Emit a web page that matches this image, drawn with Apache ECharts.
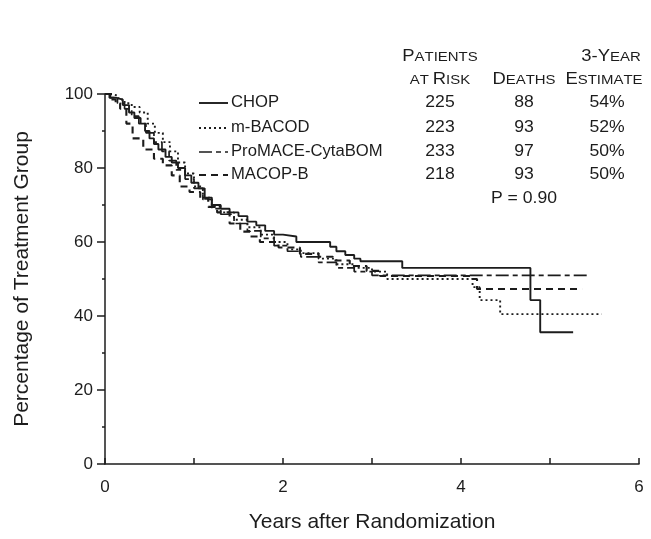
<!DOCTYPE html>
<html>
<head>
<meta charset="utf-8">
<script src="https://cdn.jsdelivr.net/npm/echarts@6/dist/echarts.min.js"></script>
<style>
  html, body { margin: 0; padding: 0; background: #fff; }
  #chart { width: 651px; height: 539px; }
</style>
</head>
<body>
<div id="chart"></div>
<script>
// Kaplan-Meier survival curves by treatment group (step functions)
const chopTimes   = [0, 0.05, 0.12, 0.2, 0.27, 0.33, 0.4, 0.45, 0.5, 0.55, 0.6, 0.68, 0.75, 0.82, 0.9, 0.97, 1.05, 1.12, 1.2, 1.3, 1.4, 1.5, 1.6, 1.7, 1.8, 1.9, 2.0, 2.15, 2.53, 2.6, 2.7, 2.8, 2.87, 3.34, 4.78, 4.89, 5.26];
const chopValues  = [100, 99, 98.5, 97, 95, 93.5, 92, 90, 88, 86.5, 85, 83, 81.5, 80, 78, 76, 74.5, 72, 70, 69, 68, 67, 65.5, 64.5, 63, 62, 61.5, 60, 58.7, 57.5, 56.5, 55.5, 54.8, 53, 44.3, 35.6, 35.6];

const mbacodTimes  = [0, 0.08, 0.15, 0.22, 0.3, 0.39, 0.48, 0.56, 0.65, 0.73, 0.82, 0.9, 1.0, 1.1, 1.2, 1.3, 1.45, 1.6, 1.75, 1.9, 2.05, 2.2, 2.4, 2.6, 2.8, 3.0, 3.17, 4.13, 4.21, 4.44, 5.58];
const mbacodValues = [100, 99.5, 98.5, 97.5, 96.5, 95, 92, 89.5, 87, 84.5, 81.5, 78.5, 75, 72, 69.5, 68, 66, 64, 62, 60, 58, 57, 55.5, 54, 53, 52, 50, 47.8, 44.3, 40.5, 40.5];

const promaceTimes  = [0, 0.06, 0.14, 0.22, 0.3, 0.38, 0.46, 0.55, 0.64, 0.72, 0.8, 0.9, 1.0, 1.1, 1.2, 1.3, 1.45, 1.6, 1.75, 1.9, 2.05, 2.2, 2.4, 2.6, 2.8, 3.0, 5.45];
const promaceValues = [100, 99, 97.5, 96, 94, 92, 89.5, 87, 84.5, 82, 79.5, 77, 74.5, 71.5, 69, 67.5, 65, 63, 61, 59, 57.5, 56, 54.5, 53, 52, 51, 51];

const macopTimes  = [0, 0.06, 0.12, 0.17, 0.24, 0.31, 0.43, 0.55, 0.65, 0.75, 0.84, 0.95, 1.07, 1.16, 1.26, 1.4, 1.52, 1.63, 1.74, 1.95, 2.19, 2.4, 2.56, 2.75, 2.94, 3.09, 4.13, 4.18, 5.36];
const macopValues = [100, 98.5, 97.5, 96, 92, 88, 85, 82.5, 80.7, 78, 75, 73.5, 71.7, 69.5, 68, 65, 62.8, 61.5, 60, 58.5, 56.8, 56, 55, 53.5, 52.2, 50.8, 50, 47.3, 47.3];

// Summary table
const groupNames   = ['CHOP', 'm-BACOD', 'ProMACE-CytaBOM', 'MACOP-B'];
const atRisk       = ['225', '223', '233', '218'];
const deaths       = ['88', '93', '97', '93'];
const estimates    = ['54%', '52%', '50%', '50%'];
const pValueText   = 'P = 0.90';

const xTicks = [0, 2, 4, 6];
const yTicks = [0, 20, 40, 60, 80, 100];

const INK = '#1c1c1c';
const FONT = '"Liberation Sans", Arial, Helvetica, sans-serif';
const dashes = ['solid', [2, 3], [13, 4, 5, 4], [7, 5]];
const widths = [1.9, 1.9, 1.7, 2.1];

function pairs(ts, vs) { return ts.map((t, i) => [t, vs[i]]); }
const seriesData = [
  pairs(chopTimes, chopValues),
  pairs(mbacodTimes, mbacodValues),
  pairs(promaceTimes, promaceValues),
  pairs(macopTimes, macopValues)
];

const chart = echarts.init(document.getElementById('chart'), null, { renderer: 'canvas' });

// Small-caps header text: capital letters full size, lowercase letters as small capitals
const capStyles = {
  big: { fontSize: 16, fontFamily: FONT, fill: INK },
  sm:  { fontSize: 13, fontFamily: FONT, fill: INK }
};
function smallCaps(str) {
  let out = '';
  for (const ch of str) {
    if (ch === ' ') out += ' ';
    else if (ch === ch.toLowerCase() && ch !== ch.toUpperCase()) out += '{sm|' + ch.toUpperCase() + '}';
    else out += '{big|' + ch + '}';
  }
  return out;
}

const colX = [440, 524, 607];
const rowY = [103, 128, 152, 175];
const graphics = [];
const TEXT_SCALE = 1.1;

function headerText(x, y, str) {
  graphics.push({
    type: 'text', x: x, y: y, scaleX: 1.15,
    style: {
      text: smallCaps(str), rich: capStyles, align: 'center', verticalAlign: 'middle',
      fontFamily: FONT, fill: INK
    }
  });
}
headerText(colX[0], 57, 'Patients');
headerText(colX[0], 80, 'at Risk');
headerText(colX[1], 80, 'Deaths');
headerText(colX[2] + 4, 57, '3-Year');
headerText(colX[2] - 3, 80, 'Estimate');

function cell(x, y, str, align, scale) {
  graphics.push({
    type: 'text', x: x, y: y, scaleX: scale || TEXT_SCALE,
    style: { text: str, fontSize: 16, fontFamily: FONT, fill: INK, align: align || 'center', verticalAlign: 'middle' }
  });
}

groupNames.forEach((name, i) => {
  const y = rowY[i];
  graphics.push({
    type: 'line',
    shape: { x1: 199, y1: y, x2: 228, y2: y },
    style: { stroke: INK, lineWidth: widths[i], lineDash: dashes[i] === 'solid' ? null : dashes[i] }
  });
  cell(231, y, name, 'left', 1.04);
  cell(colX[0], y, atRisk[i]);
  cell(colX[1], y, deaths[i]);
  cell(colX[2], y, estimates[i]);
});
cell(colX[1], 199, pValueText);

chart.setOption({
  animation: false,
  backgroundColor: '#ffffff',
  grid: { left: 105, right: 12, top: 94, bottom: 75, containLabel: false, outerBoundsMode: 'none' },
  xAxis: {
    type: 'value', min: 0, max: 6, interval: 2,
    name: 'Years after Randomization', nameLocation: 'middle', nameGap: 48,
    nameTextStyle: { fontSize: 21, fontFamily: FONT, color: INK },
    axisLine: { show: true, onZero: false, lineStyle: { color: INK, width: 1.5 } },
    axisTick: { show: true, inside: true, length: 6, lineStyle: { color: INK, width: 1.5 } },
    minorTick: { show: true, splitNumber: 2, length: 6, lineStyle: { color: INK, width: 1.5 } },
    axisLabel: { fontSize: 17, fontFamily: FONT, color: INK, margin: 15,
      formatter: v => (xTicks.indexOf(v) >= 0 ? String(v) : '') },
    splitLine: { show: false }
  },
  yAxis: {
    type: 'value', min: 0, max: 100, interval: 20,
    name: 'Percentage of Treatment Group', nameLocation: 'middle', nameGap: 72,
    nameTextStyle: { fontSize: 21, fontFamily: FONT, color: INK },
    axisLine: { show: true, onZero: false, lineStyle: { color: INK, width: 1.5 } },
    axisTick: { show: true, inside: false, length: 8, lineStyle: { color: INK, width: 1.5 } },
    minorTick: { show: true, splitNumber: 2, length: 3, lineStyle: { color: INK, width: 1.5 } },
    axisLabel: { fontSize: 17, fontFamily: FONT, color: INK, margin: 12,
      formatter: v => (yTicks.indexOf(v) >= 0 ? String(v) : '') },
    splitLine: { show: false }
  },
  series: seriesData.map((d, i) => ({
    type: 'line',
    name: groupNames[i],
    step: 'end',
    data: d,
    showSymbol: false,
    symbol: 'none',
    lineStyle: { color: INK, width: widths[i], type: dashes[i] },
    z: 10 - i
  })),
  graphic: graphics
});
</script>
</body>
</html>
